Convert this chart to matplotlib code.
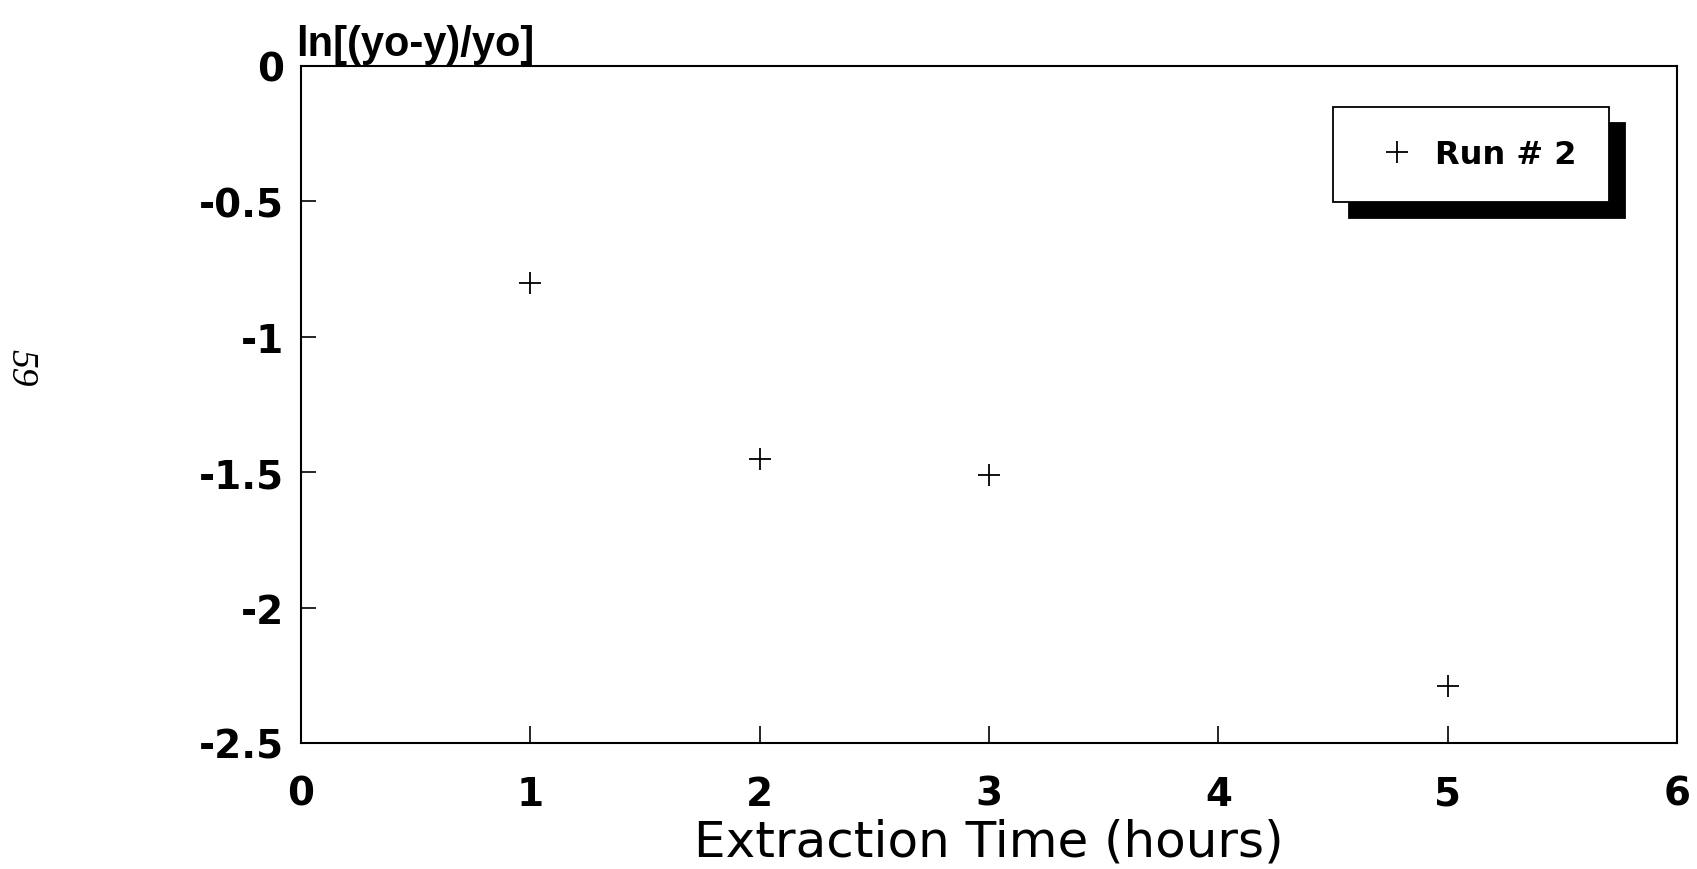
import matplotlib
matplotlib.use("Agg")
import matplotlib.pyplot as plt
from matplotlib.font_manager import FontProperties

# Data
extraction_time = [1, 2, 3, 5]
ln_ratio = [-0.80, -1.45, -1.51, -2.29]
series_label = "Run # 2"
x_ticks = [0, 1, 2, 3, 4, 5, 6]
y_ticks = [0, -0.5, -1, -1.5, -2, -2.5]
y_tick_labels = ["0", "-0.5", "-1", "-1.5", "-2", "-2.5"]

W, H = 1697, 870
top_px, bottom_px, left_px, right_px = 67, 744, 301, 1677
fig = plt.figure(figsize=(W / 100, H / 100), dpi=100)
ax = fig.add_axes([left_px / W, 1 - bottom_px / H, (right_px - left_px) / W,
                   (bottom_px - top_px) / H])

ax.plot(extraction_time, ln_ratio, linestyle="none", marker="+",
        markersize=16, markeredgewidth=1.3, color="black", label=series_label)

ax.set_xlim(0, 6)
ax.set_ylim(-2.5, 0)
ax.set_xticks(x_ticks)
ax.set_yticks(y_ticks)
ax.set_yticklabels(y_tick_labels)

for s in ax.spines.values():
    s.set_linewidth(1.5)

tick_fp = FontProperties(family="DejaVu Sans", weight="bold", size=28)
ax.tick_params(axis="x", direction="in", length=12, width=1.2, pad=23)
ax.tick_params(axis="y", direction="in", length=11, width=1.2, pad=12)
for lab in ax.get_xticklabels() + ax.get_yticklabels():
    lab.set_fontproperties(tick_fp)

ax.set_xlabel("Extraction Time (hours)", family="DejaVu Sans", fontsize=36, labelpad=3)

fig.text(296 / W, 1 - 45 / H, "ln[(yo-y)/yo]", family="Liberation Sans",
         weight="bold", fontsize=30, ha="left", va="center")

fig.text(21 / W, 1 - 368 / H, "59", family="Liberation Serif", style="italic",
         fontsize=27, rotation=-90, ha="center", va="center")

leg = ax.legend(loc="upper left",
                bbox_to_anchor=((1333 - left_px) / (right_px - left_px),
                                1 - (108 - top_px) / (bottom_px - top_px)),
                fancybox=False, frameon=True, edgecolor="black", framealpha=1,
                prop=dict(family="DejaVu Sans", weight="bold", size=23),
                borderpad=1.0, handlelength=2.0, handletextpad=0.2, borderaxespad=0,
                shadow=dict(ox=11.5, oy=-11.5, facecolor="black", edgecolor="black", alpha=1))
leg.get_frame().set_linewidth(1.3)

fig.savefig("out.png", dpi=100)
